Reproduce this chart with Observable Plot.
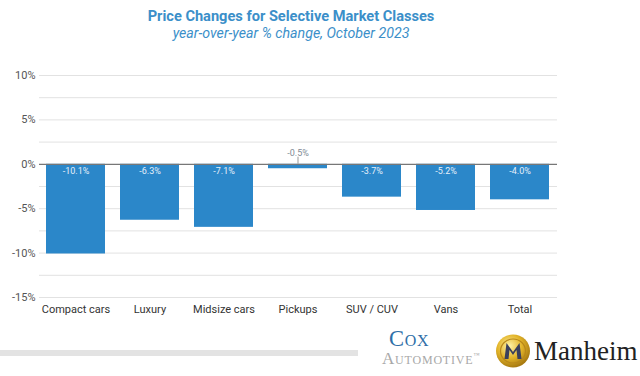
<!DOCTYPE html>
<html>
<head>
<meta charset="utf-8">
<script src="https://cdn.jsdelivr.net/npm/d3@7"></script>
<script src="https://cdn.jsdelivr.net/npm/@observablehq/plot@0.6"></script>
<style>
  html, body { margin: 0; padding: 0; background: #fff; }
  body { width: 640px; height: 376px; position: relative; overflow: hidden; font-family: Roboto, "Noto Sans", sans-serif; }
  #title { position: absolute; left: 0; top: 0; width: 582px; text-align: center; color: #3b8fc9; }
  #title .t { font-weight: 700; font-size: 14.6px; line-height: 18px; padding-top: 7px; }
  #title .s { font-style: italic; font-size: 14.2px; line-height: 17px; }
  #chart { position: absolute; left: 0; top: 46px; }
  #graybar { position: absolute; left: 0; top: 350px; width: 358px; height: 6px; background: #e3e3e3; }
  #coxlogo { position: absolute; left: 378px; top: 320px; overflow: visible; }
  #coxlogo text { font-family: "Liberation Serif", "DejaVu Serif", serif; font-variant: small-caps; }
  #logo { position: absolute; left: 495px; top: 334px; }
  #manheim { position: absolute; left: 534px; top: 336px; font-family: "Liberation Serif", "DejaVu Serif", serif; color: #222; font-size: 27px; line-height: 30px; }
</style>
</head>
<body>
<div id="title">
  <div class="t">Price Changes for Selective Market Classes</div>
  <div class="s">year-over-year % change, October 2023</div>
</div>
<div id="chart"></div>
<div id="graybar"></div>
<svg id="coxlogo" width="110" height="54">
  <text x="11" y="26" font-size="22.5" fill="#2f6fa8" letter-spacing="0.7">Cox</text>
  <text x="4" y="43.5" font-size="17" fill="#a8a8a8" letter-spacing="0.8">Automotive<tspan dy="-7" font-size="6">™</tspan></text>
</svg>
<svg id="logo" width="36" height="34" viewBox="0 0 36 34">
  <defs>
    <radialGradient id="gold" cx="40%" cy="35%" r="65%">
      <stop offset="0%" stop-color="#fff3a8"/>
      <stop offset="55%" stop-color="#e3b52a"/>
      <stop offset="100%" stop-color="#a87a10"/>
    </radialGradient>
  </defs>
  <ellipse cx="18" cy="17" rx="17" ry="16.5" fill="url(#gold)"/>
  <ellipse cx="18" cy="17" rx="12.5" ry="12" fill="none" stroke="#b8871a" stroke-width="1.2"/>
  <path d="M9.5 25 L11.5 9 L18 18 L24.5 9 L26.5 25 L22.5 25 L21.5 16 L18 21 L14.5 16 L13.5 25 Z" fill="#3a3f5c"/>
</svg>
<div id="manheim">Manheim</div>
<script>
const categories = ["Compact cars", "Luxury", "Midsize cars", "Pickups", "SUV / CUV", "Vans", "Total"];
const values = [-10.1, -6.3, -7.1, -0.5, -3.7, -5.2, -4.0];
const valueLabels = ["-10.1%", "-6.3%", "-7.1%", "-0.5%", "-3.7%", "-5.2%", "-4.0%"];
const yTicks = [-15, -10, -5, 0, 5, 10];
const gridValues = [-15, -12.5, -10, -7.5, -5, -2.5, 2.5, 5, 7.5, 10];

const data = categories.map((c, i) => ({cat: c, value: values[i], label: valueLabels[i]}));
const inside = data.filter(d => Math.abs(d.value) >= 2);
const outside = data.filter(d => Math.abs(d.value) < 2);

const chart = Plot.plot({
  width: 640,
  height: 284,
  marginTop: 29,
  marginBottom: 33,
  marginLeft: 39,
  marginRight: 83,
  style: { fontFamily: "Roboto, 'Noto Sans', sans-serif", background: "transparent" },
  x: { domain: categories, paddingInner: 0.2, paddingOuter: 0.1, label: null, tickSize: 0, tickPadding: 8 },
  y: { domain: [-15, 10], label: null },
  marks: [
    Plot.ruleY(gridValues, { stroke: "#e2e2e2", strokeWidth: 1 }),
    Plot.barY(data, { x: "cat", y: "value", fill: "#2b87c9" }),
    Plot.ruleY([0], { stroke: "#777", strokeWidth: 1.2 }),
    Plot.text(inside, { x: "cat", y: () => 0, text: "label", dy: 7, fill: "#e6f0fa", fontSize: 9 }),
    Plot.ruleX(outside, { x: "cat", y1: 0, y2: 0.8, stroke: "#999", strokeWidth: 1 }),
    Plot.text(outside, { x: "cat", y: () => 0, text: "label", dy: -11, fill: "#7f8b95", fontSize: 9 }),
    Plot.axisY({ ticks: yTicks, tickFormat: d => d + "%", tickSize: 0, tickPadding: 4, fontSize: 11, fill: "#555", label: null }),
    Plot.axisX({ tickSize: 0, tickPadding: 8, fontSize: 11, fill: "#333", label: null })
  ]
});
document.getElementById("chart").appendChild(chart);
</script>
</body>
</html>
